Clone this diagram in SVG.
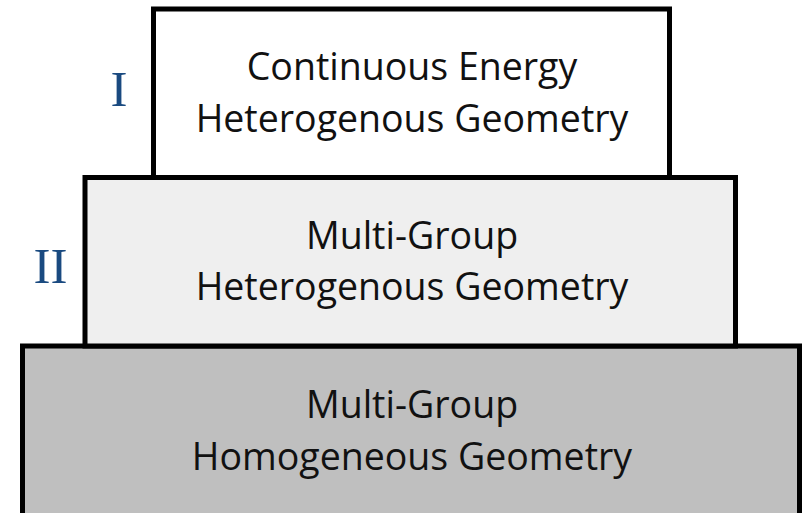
<svg xmlns="http://www.w3.org/2000/svg" width="802" height="513" viewBox="0 0 802 513">
  <style>
    .box { stroke: #000; stroke-width: 5; }
    .txt { font-family: "Open Sans", "Noto Sans", "Liberation Sans", sans-serif; font-size: 37.5px; fill: #111; text-anchor: middle; }
    .lvl { font-family: "Liberation Serif", "DejaVu Serif", serif; font-size: 51px; fill: #1a4a80; }
  </style>
  <rect width="802" height="513" fill="#ffffff"/>
  <g id="level-III">
    <rect class="box" x="22.5" y="346" width="777" height="170" fill="#bfbfbf"/>
    <text class="txt" x="412" y="418">Multi-Group</text>
    <text class="txt" x="412" y="470">Homogeneous Geometry</text>
    <text class="lvl" x="1.5" y="452" text-anchor="end">III</text>
  </g>
  <g id="level-II">
    <rect class="box" x="85" y="177.5" width="650.5" height="168.5" fill="#efefef"/>
    <text class="txt" x="412" y="249">Multi-Group</text>
    <text class="txt" x="412" y="300">Heterogenous Geometry</text>
    <text class="lvl" x="33.5" y="283">II</text>
  </g>
  <g id="level-I">
    <rect class="box" x="153.5" y="9" width="516" height="168.5" fill="#ffffff"/>
    <text class="txt" x="412" y="80">Continuous Energy</text>
    <text class="txt" x="412" y="132">Heterogenous Geometry</text>
    <text class="lvl" x="110.5" y="106">I</text>
  </g>
  <g id="connectors"/>
</svg>
